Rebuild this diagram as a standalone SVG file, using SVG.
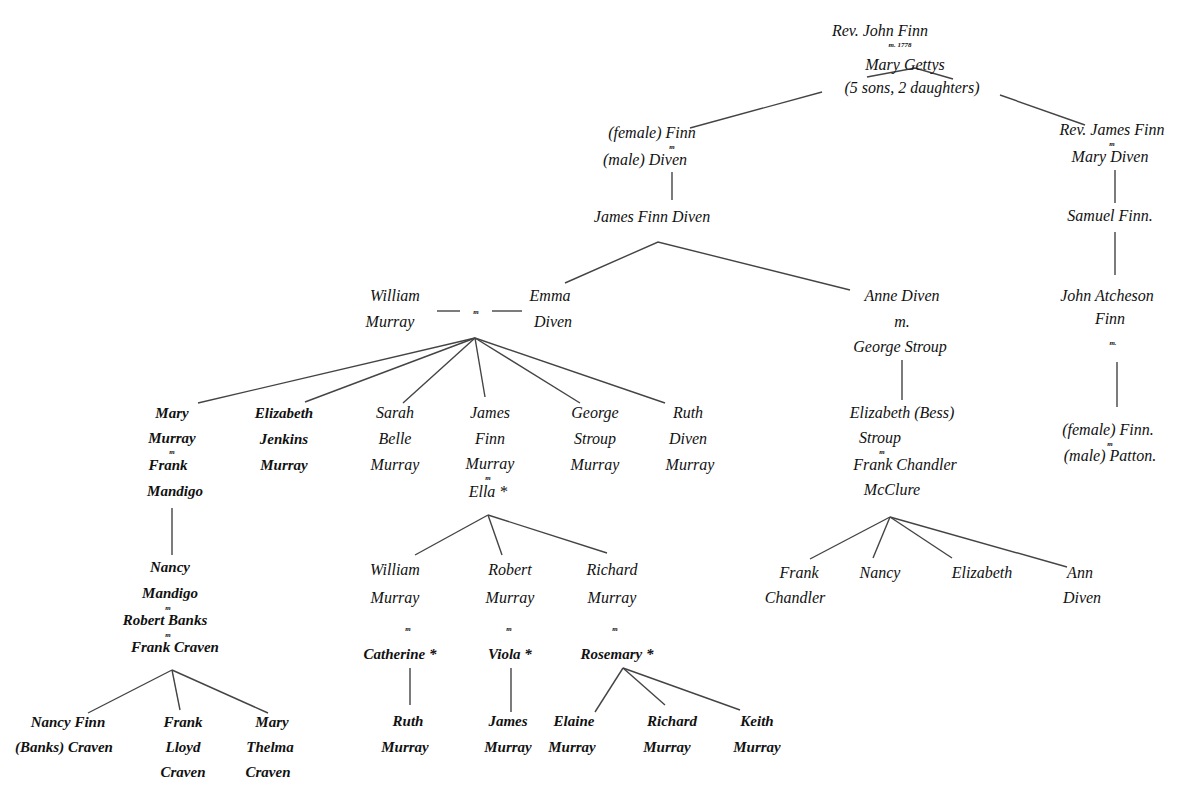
<svg xmlns="http://www.w3.org/2000/svg" width="1199" height="786" viewBox="0 0 1199 786">
<style>
text{font-family:"Liberation Serif","DejaVu Serif",serif;font-style:italic;font-size:16px;fill:#111;text-anchor:middle}
text.s{font-size:7px;font-weight:bold}
text.w{font-weight:bold;font-size:15px}
.c line,.c polyline{stroke:#444;stroke-width:1.4;fill:none}
</style>
<rect width="1199" height="786" fill="#fff"/>
<g class="c" id="connectors">
<polyline points="867,77 915,68 953,79"/>
<line x1="822" y1="92" x2="690" y2="128"/>
<line x1="1000" y1="95" x2="1085" y2="125"/>
<line x1="672" y1="172" x2="672" y2="200"/>
<line x1="1115" y1="170" x2="1115" y2="203"/>
<line x1="1115" y1="232" x2="1115" y2="275"/>
<line x1="1117" y1="362" x2="1117" y2="407"/>
<polyline points="565,283 658,242 850,290"/>
<line x1="437" y1="311" x2="460" y2="311"/>
<line x1="492" y1="311" x2="522" y2="311"/>
<line x1="475" y1="338" x2="198" y2="403"/>
<line x1="475" y1="338" x2="305" y2="402"/>
<line x1="475" y1="338" x2="403" y2="403"/>
<line x1="475" y1="338" x2="485" y2="397"/>
<line x1="475" y1="338" x2="580" y2="403"/>
<line x1="475" y1="338" x2="665" y2="403"/>
<line x1="902" y1="360" x2="902" y2="400"/>
<line x1="890" y1="517" x2="810" y2="559"/>
<line x1="890" y1="517" x2="873" y2="558"/>
<line x1="890" y1="517" x2="952" y2="558"/>
<line x1="890" y1="517" x2="1067" y2="567"/>
<line x1="488" y1="515" x2="415" y2="555"/>
<line x1="488" y1="515" x2="502" y2="555"/>
<line x1="488" y1="515" x2="607" y2="553"/>
<line x1="410" y1="668" x2="410" y2="705"/>
<line x1="511" y1="668" x2="511" y2="712"/>
<line x1="623" y1="668" x2="595" y2="712"/>
<line x1="623" y1="668" x2="665" y2="705"/>
<line x1="623" y1="668" x2="740" y2="710"/>
<line x1="172" y1="508" x2="172" y2="555"/>
<line x1="172" y1="670" x2="88" y2="713"/>
<line x1="172" y1="670" x2="180" y2="710"/>
<line x1="172" y1="670" x2="268" y2="713"/>
</g>
<g id="n-john-finn"><text x="880" y="36">Rev. John Finn</text><text class="s" x="900" y="47">m. 1778</text><text x="905" y="70">Mary Gettys</text><text x="912" y="93">(5 sons, 2 daughters)</text></g>
<g id="n-female-finn"><text x="652" y="138">(female) Finn</text><text class="s" x="672" y="149">m</text><text x="645" y="165">(male) Diven</text></g>
<g id="n-james-finn"><text x="1112" y="135">Rev. James Finn</text><text class="s" x="1112" y="146">m</text><text x="1110" y="162">Mary Diven</text></g>
<g id="n-james-finn-diven"><text x="652" y="222">James Finn Diven</text></g>
<g id="n-samuel-finn"><text x="1110" y="221">Samuel Finn.</text></g>
<g id="n-john-atcheson"><text x="1107" y="301">John Atcheson</text><text x="1110" y="324">Finn</text><text class="s" x="1113" y="345">m.</text></g>
<g id="n-female-finn-patton"><text x="1108" y="435">(female) Finn.</text><text class="s" x="1110" y="446">m</text><text x="1110" y="461">(male) Patton.</text></g>
<g id="n-william-emma"><text x="395" y="301">William</text><text x="390" y="327">Murray</text><text class="s" x="476" y="314">m</text><text x="550" y="301">Emma</text><text x="553" y="327">Diven</text></g>
<g id="n-anne-diven"><text x="902" y="301">Anne Diven</text><text x="902" y="327">m.</text><text x="900" y="352">George Stroup</text></g>
<g id="n-mary-murray"><text class="w" x="172" y="418">Mary</text><text class="w" x="172" y="443">Murray</text><text class="s" x="172" y="454">m</text><text class="w" x="168" y="470">Frank</text><text class="w" x="175" y="496">Mandigo</text></g>
<g id="n-elizabeth-murray"><text class="w" x="284" y="418">Elizabeth</text><text class="w" x="284" y="444">Jenkins</text><text class="w" x="284" y="470">Murray</text></g>
<g id="n-sarah"><text x="395" y="418">Sarah</text><text x="395" y="444">Belle</text><text x="395" y="470">Murray</text></g>
<g id="n-james-murray"><text x="490" y="418">James</text><text x="490" y="444">Finn</text><text x="490" y="469">Murray</text><text class="s" x="488" y="480">m</text><text x="488" y="497">Ella *</text></g>
<g id="n-george"><text x="595" y="418">George</text><text x="595" y="444">Stroup</text><text x="595" y="470">Murray</text></g>
<g id="n-ruth-diven"><text x="688" y="418">Ruth</text><text x="688" y="444">Diven</text><text x="690" y="470">Murray</text></g>
<g id="n-elizabeth-bess"><text x="902" y="418">Elizabeth (Bess)</text><text x="880" y="443">Stroup</text><text class="s" x="882" y="454">m</text><text x="905" y="470">Frank Chandler</text><text x="892" y="495">McClure</text></g>
<g id="n-frank-chandler"><text x="799" y="578">Frank</text><text x="795" y="603">Chandler</text></g>
<g id="n-nancy"><text x="880" y="578">Nancy</text></g>
<g id="n-elizabeth"><text x="982" y="578">Elizabeth</text></g>
<g id="n-ann-diven"><text x="1080" y="578">Ann</text><text x="1082" y="603">Diven</text></g>
<g id="n-william-murray"><text x="395" y="575">William</text><text x="395" y="603">Murray</text><text class="s" x="408" y="631">m</text><text class="w" x="400" y="659">Catherine *</text></g>
<g id="n-robert-murray"><text x="510" y="575">Robert</text><text x="510" y="603">Murray</text><text class="s" x="509" y="631">m</text><text class="w" x="510" y="659">Viola *</text></g>
<g id="n-richard-murray"><text x="612" y="575">Richard</text><text x="612" y="603">Murray</text><text class="s" x="615" y="631">m</text><text class="w" x="617" y="659">Rosemary *</text></g>
<g id="n-ruth-murray"><text class="w" x="408" y="726">Ruth</text><text class="w" x="405" y="752">Murray</text></g>
<g id="n-james-murray2"><text class="w" x="508" y="726">James</text><text class="w" x="508" y="752">Murray</text></g>
<g id="n-elaine"><text class="w" x="574" y="726">Elaine</text><text class="w" x="572" y="752">Murray</text></g>
<g id="n-richard2"><text class="w" x="672" y="726">Richard</text><text class="w" x="667" y="752">Murray</text></g>
<g id="n-keith"><text class="w" x="757" y="726">Keith</text><text class="w" x="757" y="752">Murray</text></g>
<g id="n-nancy-mandigo"><text class="w" x="170" y="572">Nancy</text><text class="w" x="170" y="598">Mandigo</text><text class="s" x="168" y="610">m</text><text class="w" x="165" y="625">Robert Banks</text><text class="s" x="168" y="637">m</text><text class="w" x="175" y="652">Frank Craven</text></g>
<g id="n-nancy-finn"><text class="w" x="68" y="727">Nancy Finn</text><text class="w" x="64" y="752">(Banks) Craven</text></g>
<g id="n-frank-lloyd"><text class="w" x="183" y="727">Frank</text><text class="w" x="183" y="752">Lloyd</text><text class="w" x="183" y="777">Craven</text></g>
<g id="n-mary-thelma"><text class="w" x="272" y="727">Mary</text><text class="w" x="270" y="752">Thelma</text><text class="w" x="268" y="777">Craven</text></g>
</svg>
